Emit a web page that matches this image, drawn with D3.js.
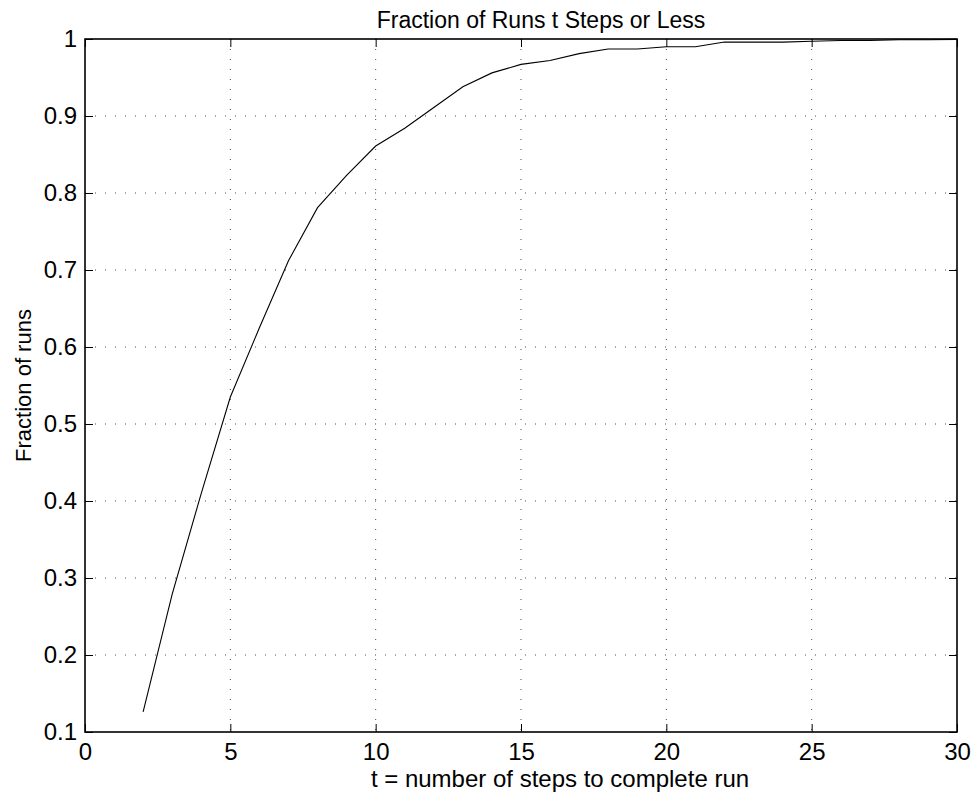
<!DOCTYPE html>
<html>
<head>
<meta charset="utf-8">
<script src="https://cdn.jsdelivr.net/npm/d3@7"></script>
<style>
  html, body { margin: 0; padding: 0; background: #fff; }
  text { font-family: "Liberation Sans", Arial, Helvetica, sans-serif; fill: #000; }
</style>
</head>
<body>
<svg id="chart" width="976" height="796"></svg>
<script>
const steps = [2,3,4,5,6,7,8,9,10,11,12,13,14,15,16,17,18,19,20,21,22,23,24,25,26,27,28,29,30];
const fraction = [0.126,0.279,0.410,0.535,0.625,0.712,0.781,0.823,0.861,0.884,0.911,0.938,0.956,0.967,0.972,0.981,0.987,0.987,0.990,0.990,0.996,0.996,0.996,0.997,0.998,0.998,0.999,0.999,0.9995];
const xTicks = [0,5,10,15,20,25,30];
const yTicks = [0.1,0.2,0.3,0.4,0.5,0.6,0.7,0.8,0.9,1];
const title = "Fraction of Runs t Steps or Less";
const xLabel = "t = number of steps to complete run";
const yLabel = "Fraction of runs";

const svg = d3.select("#chart");
const m = {left: 85, right: 957, top: 39, bottom: 732};
const x = d3.scaleLinear().domain([0, 30]).range([m.left, m.right]);
const y = d3.scaleLinear().domain([0.1, 1]).range([m.bottom, m.top]);

svg.append("rect").attr("width", 976).attr("height", 796).attr("fill", "#fff");

// grid
const grid = svg.append("g").attr("stroke", "#000").attr("stroke-width", 1)
  .attr("stroke-dasharray", "1,9").attr("opacity", 0.7);
grid.selectAll("line.v").data(xTicks.slice(1, -1)).join("line")
  .attr("x1", d => x(d)).attr("x2", d => x(d)).attr("y1", m.top).attr("y2", m.bottom);
grid.selectAll("line.h").data(yTicks.slice(1, -1)).join("line")
  .attr("y1", d => y(d)).attr("y2", d => y(d)).attr("x1", m.left).attr("x2", m.right);

// data line
svg.append("path")
  .datum(steps.map((s, i) => [s, fraction[i]]))
  .attr("fill", "none").attr("stroke", "#000").attr("stroke-width", 1.1)
  .attr("d", d3.line().x(d => x(d[0])).y(d => y(d[1])));

// axes with inward ticks
const tickLen = 8;
const tickFont = 24;
const xb = svg.append("g").attr("transform", `translate(0,${m.bottom})`)
  .call(d3.axisBottom(x).tickValues(xTicks).tickSizeInner(-tickLen).tickSizeOuter(0).tickPadding(11).tickFormat(d3.format("d")));
const xt = svg.append("g").attr("transform", `translate(0,${m.top})`)
  .call(d3.axisTop(x).tickValues(xTicks).tickSizeInner(-tickLen).tickSizeOuter(0).tickFormat(""));
const yl = svg.append("g").attr("transform", `translate(${m.left},0)`)
  .call(d3.axisLeft(y).tickValues(yTicks).tickSizeInner(-tickLen).tickSizeOuter(0).tickPadding(8).tickFormat(d => d === 1 ? "1" : d3.format(".1f")(d)));
const yr = svg.append("g").attr("transform", `translate(${m.right},0)`)
  .call(d3.axisRight(y).tickValues(yTicks).tickSizeInner(-tickLen).tickSizeOuter(0).tickFormat(""));
[xb, xt, yl, yr].forEach(g => {
  g.select(".domain").remove();
  g.selectAll(".tick line").attr("stroke", "#000").attr("stroke-width", 1);
  g.selectAll("text").attr("font-size", tickFont).attr("font-family", "Liberation Sans, Arial, sans-serif").attr("fill", "#000");
});

// frame
svg.append("rect").attr("x", m.left).attr("y", m.top)
  .attr("width", m.right - m.left).attr("height", m.bottom - m.top)
  .attr("fill", "none").attr("stroke", "#000").attr("stroke-width", 1.6);

// labels
svg.append("text").attr("x", 541).attr("y", 28)
  .attr("text-anchor", "middle").attr("font-size", 23).text(title);
svg.append("text").attr("x", 560).attr("y", 787)
  .attr("text-anchor", "middle").attr("font-size", 24).text(xLabel);
svg.append("text").attr("transform", `translate(31,${(m.top + m.bottom) / 2}) rotate(-90)`)
  .attr("text-anchor", "middle").attr("font-size", 22).text(yLabel);
</script>
</body>
</html>
